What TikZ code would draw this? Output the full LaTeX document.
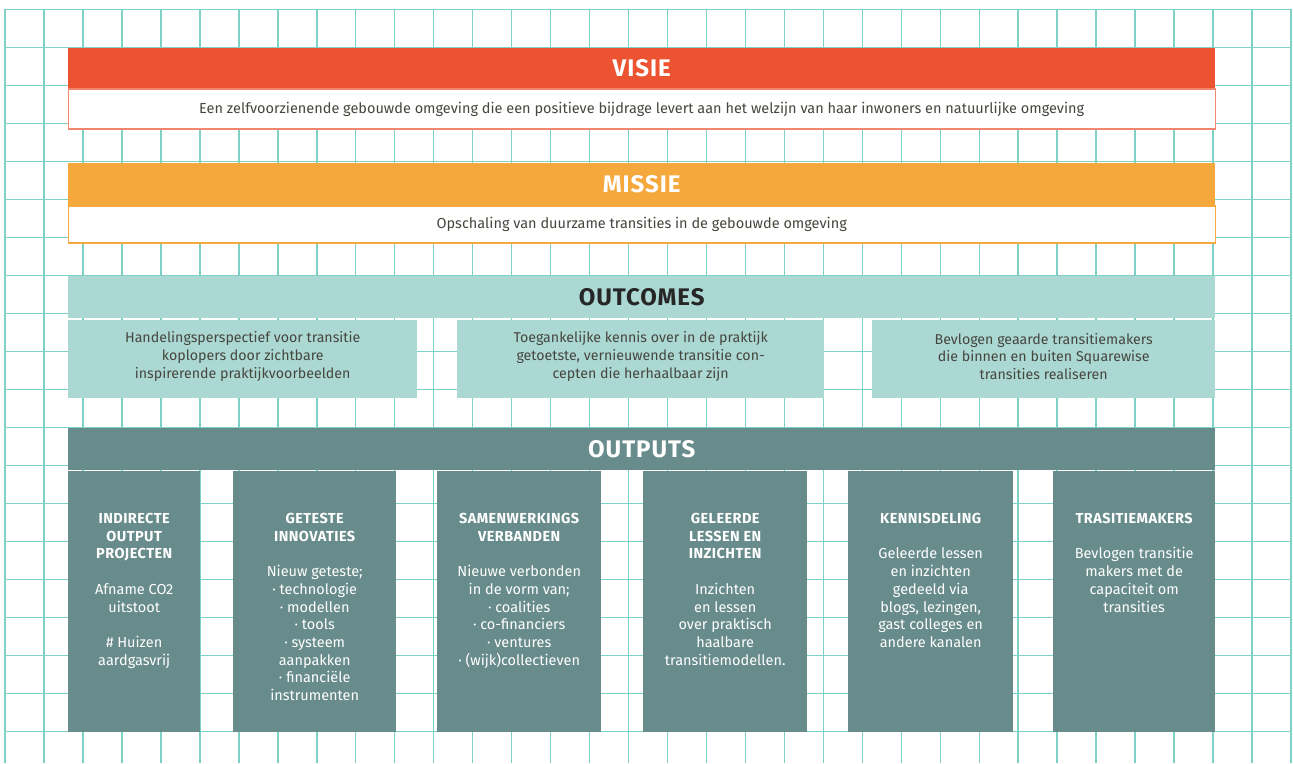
\documentclass[tikz,border=0pt]{standalone}
\usepackage{fontspec}
\setmainfont{Fira Sans}
\usetikzlibrary{positioning}

\definecolor{gridline}{RGB}{125,210,198}
\definecolor{visiered}{RGB}{236,83,49}
\definecolor{missieorange}{RGB}{245,168,60}
\definecolor{outcometeal}{RGB}{171,216,211}
\definecolor{outputteal}{RGB}{104,139,139}
\definecolor{bodygrey}{RGB}{70,70,62}

\newcommand\boxhead[1]{{\bfseries\addfontfeatures{LetterSpace=3}#1}}

\tikzset{
  header/.style={anchor=north west, inner sep=0pt, minimum width=1147pt,
    font=\fontsize{24}{28}\selectfont\bfseries\addfontfeatures{LetterSpace=4}},
  whitebox/.style={fill=white, line width=1.3pt, inner sep=0pt, minimum width=1147pt,
    text=bodygrey, font=\fontsize{14.5}{17.7}\selectfont},
  outcomebox/.style={anchor=north west, fill=outcometeal, inner sep=0pt, minimum height=78pt},
  outcometext/.style={inner sep=0pt, align=center, text=bodygrey,
    font=\fontsize{14.2}{17.7}\selectfont},
  outputbox/.style={anchor=north west, fill=outputteal, inner sep=0pt, minimum height=261pt},
  outputtext/.style={inner sep=0pt, align=center, text=white,
    font=\fontsize{14.5}{17.7}\selectfont}
}

\begin{document}
\begin{tikzpicture}[x=1pt, y=-1pt]
    \useasboundingbox[fill=white] (0,0) rectangle (1293,763);

    % draw the grid
    \foreach \i in {0,...,33}
        \draw[gridline, line width=1.5pt] ({5+\i*38.97},9.3) -- ({5+\i*38.97},763);
    \foreach \j in {0,...,19}
        \draw[gridline, line width=1.5pt] (5,{9.3+\j*38}) -- (1291,{9.3+\j*38});

    % visie
    \node[header, fill=visiered, text=white, minimum height=40pt] (visie) at (68,48) {VISIE};
    \node[whitebox, draw=visiered!70, minimum height=40pt, below=0pt of visie] (visietxt)
        {Een zelfvoorzienende gebouwde omgeving die een positieve bijdrage levert aan het welzijn van haar inwoners en natuurlijke omgeving};

    % missie
    \node[header, fill=missieorange, text=white, minimum height=42pt] (missie) at (68,163) {MISSIE};
    \node[whitebox, draw=missieorange, minimum height=37pt, below=0pt of missie] (missietxt)
        {Opschaling van duurzame transities in de gebouwde omgeving};

    % outcomes
    \node[header, fill=outcometeal, text=black!85, minimum height=41.5pt] (outcomes) at (68,276) {OUTCOMES};
    \node[outcomebox, minimum width=349pt] (oc1) at (68,319.3) {};
    \node[outcomebox, minimum width=367pt] (oc2) at (457,319.3) {};
    \node[outcomebox, minimum width=343pt] (oc3) at (872,319.3) {};
    \node[outcometext] (oc1txt) at ([yshift=2pt]oc1.center)
        {Handelingsperspectief voor transitie\\koplopers door zichtbare\\inspirerende praktijkvoorbeelden};
    \node[outcometext] (oc2txt) at ([yshift=2pt]oc2.center)
        {Toegankelijke kennis over in de praktijk\\getoetste, vernieuwende transitie con-\\cepten die herhaalbaar zijn};
    \node[outcometext] (oc3txt) at ([yshift=2pt]oc3.center)
        {Bevlogen geaarde transitiemakers\\die binnen en buiten Squarewise\\transities realiseren};

    % outputs
    \node[header, fill=outputteal, text=white, minimum height=42.5pt] (outputs) at (68,427.5) {OUTPUTS};
    \node[outputbox, minimum width=132pt] (out1) at (68,471) {};
    \node[outputbox, minimum width=163pt] (out2) at (233,471) {};
    \node[outputbox, minimum width=164pt] (out3) at (437,471) {};
    \node[outputbox, minimum width=164pt] (out4) at (643,471) {};
    \node[outputbox, minimum width=165pt] (out5) at (848,471) {};
    \node[outputbox, minimum width=162pt] (out6) at (1053,471) {};

    \node[outputtext, below=42pt of out1.north] (out1txt)
        {\boxhead{INDIRECTE}\\\boxhead{OUTPUT}\\\boxhead{PROJECTEN}\\[17.7pt]Afname CO2\\uitstoot\\[17.7pt]\# Huizen\\aardgasvrij};
    \node[outputtext, below=42pt of out2.north] (out2txt)
        {\boxhead{GETESTE}\\\boxhead{INNOVATIES}\\[17.7pt]Nieuw geteste;\\· technologie\\· modellen\\· tools\\· systeem\\aanpakken\\· financiële\\instrumenten};
    \node[outputtext, below=42pt of out3.north] (out3txt)
        {\boxhead{SAMENWERKINGS}\\\boxhead{VERBANDEN}\\[17.7pt]Nieuwe verbonden\\in de vorm van;\\· coalities\\· co-financiers\\· ventures\\· (wijk)collectieven};
    \node[outputtext, below=42pt of out4.north] (out4txt)
        {\boxhead{GELEERDE}\\\boxhead{LESSEN EN}\\\boxhead{INZICHTEN}\\[17.7pt]Inzichten\\en lessen\\over praktisch\\haalbare\\transitiemodellen.};
    \node[outputtext, below=42pt of out5.north] (out5txt)
        {\boxhead{KENNISDELING}\\[17.7pt]Geleerde lessen\\en inzichten\\gedeeld via\\blogs, lezingen,\\gast colleges en\\andere kanalen};
    \node[outputtext, below=42pt of out6.north] (out6txt)
        {\boxhead{TRASITIEMAKERS}\\[17.7pt]Bevlogen transitie\\makers met de\\capaciteit om\\transities};
\end{tikzpicture}
\end{document}
